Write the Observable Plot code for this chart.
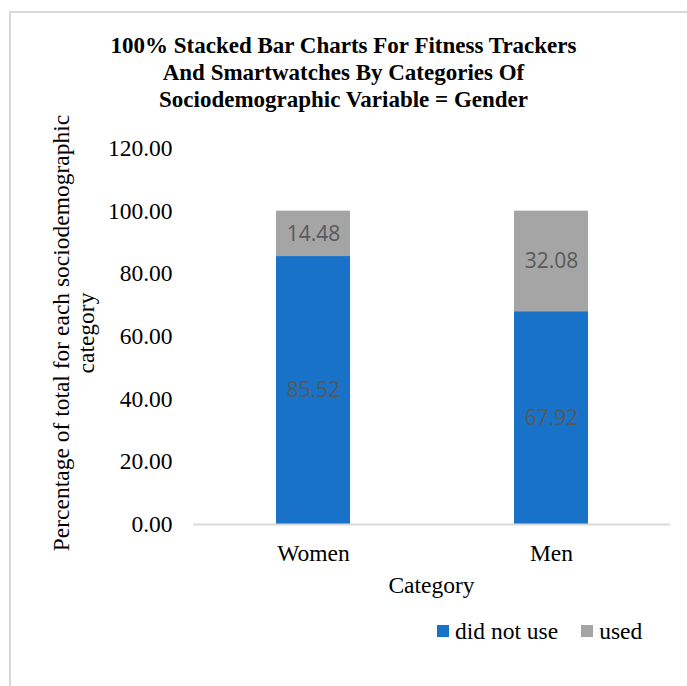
<!DOCTYPE html>
<html>
<head>
<meta charset="utf-8">
<script src="https://cdn.jsdelivr.net/npm/d3@7"></script>
<script src="https://cdn.jsdelivr.net/npm/@observablehq/plot@0.6"></script>
<style>
  body { margin: 0; background: #fff; }
  #wrap { position: relative; width: 687px; height: 686px; overflow: hidden;
          font-family: "Liberation Serif", "Times New Roman", serif; color: #000; }
  #border { position: absolute; left: 9px; top: 11px; width: 720px; height: 720px;
            border: 2px solid #d9d9d9; box-sizing: border-box; }
  #title { position: absolute; left: 0; top: 32px; width: 687px; text-align: center;
           font-weight: bold; font-size: 23px; line-height: 27px; }
  #chart { position: absolute; left: 0; top: 0; }
  #ylabel { position: absolute; left: -156px; top: 308px; width: 460px; height: 50px;
            text-align: center; font-size: 23.5px; line-height: 25px; transform: rotate(-90deg); }
  #xlabel { position: absolute; left: 193px; width: 477px; top: 572px; text-align: center;
            font-size: 23.5px; line-height: 27px; }
  #legend { position: absolute; left: 437px; top: 619px; display: flex; align-items: center;
            font-size: 23.5px; line-height: 24px; }
  .item { display: flex; align-items: center; margin-right: 23px; }
  .sw { width: 12px; height: 12px; margin-right: 6px; }
</style>
</head>
<body>
<div id="wrap">
  <div id="border"></div>
  <div id="title"></div>
  <div id="chart"></div>
  <div id="ylabel"></div>
  <div id="xlabel"></div>
  <div id="legend"></div>
</div>
<script>
const titleLines = ["100% Stacked Bar Charts For Fitness Trackers",
                    "And Smartwatches By Categories Of",
                    "Sociodemographic Variable = Gender"];
const yLabelLines = ["Percentage of total for each sociodemographic", "category"];
const xLabel = "Category";
const categories = ["Women", "Men"];
const seriesNames = ["did not use", "used"];
const didNotUse = [85.52, 67.92];
const used = [14.48, 32.08];
const yTicks = [0, 20, 40, 60, 80, 100, 120];
const colors = ["#1872C8", "#A5A5A5"];

const seriesValues = [didNotUse, used];
const data = [];
categories.forEach((c, i) => {
  seriesNames.forEach((s, j) => data.push({category: c, series: s, value: seriesValues[j][i]}));
});

document.getElementById("title").innerHTML = titleLines.join("<br>");
document.getElementById("ylabel").innerHTML = yLabelLines.join("<br>");
document.getElementById("xlabel").textContent = xLabel;

const chart = Plot.plot({
  width: 687,
  height: 600,
  marginTop: 148,
  marginBottom: 76,
  marginLeft: 193,
  marginRight: 17,
  style: {fontFamily: '"Liberation Serif", "Times New Roman", serif', fontSize: "23.5px",
          color: "#000", background: "transparent", overflow: "visible"},
  x: {domain: categories, padding: 0, label: null, tickSize: 0, tickPadding: 20},
  y: {domain: [0, 120], ticks: yTicks, tickFormat: d3.format(".2f"), tickSize: 0, tickPadding: 21, label: null},
  color: {domain: seriesNames, range: colors},
  marks: [
    Plot.barY(data, {x: "category", y: "value", fill: "series", insetLeft: 82, insetRight: 82}),
    Plot.ruleY([0], {stroke: "#d9d9d9", strokeWidth: 2}),
    Plot.text(data, Plot.stackY({x: "category", y: "value", z: "series",
      text: d => d.value.toFixed(2), fill: "#595959",
      fontFamily: '"Open Sans", sans-serif', fontSize: 21}))
  ]
});
document.getElementById("chart").appendChild(chart);

const legend = document.getElementById("legend");
seriesNames.forEach((s, i) => {
  const item = document.createElement("div");
  item.className = "item";
  const sw = document.createElement("div");
  sw.className = "sw";
  sw.style.background = colors[i];
  const t = document.createElement("span");
  t.textContent = s;
  item.appendChild(sw);
  item.appendChild(t);
  legend.appendChild(item);
});
</script>
</body>
</html>
